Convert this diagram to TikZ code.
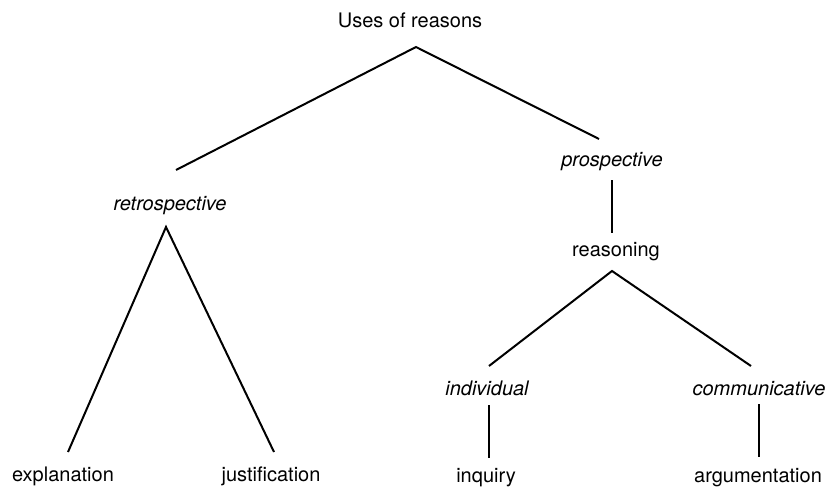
\documentclass[tikz,border=0pt]{standalone}
\usepackage{fontspec}
\setmainfont{TeX Gyre Heros}
\begin{document}
\begin{tikzpicture}[x=1pt,y=-1pt,
  lbl/.style={inner sep=0pt, anchor=base, font=\fontsize{20}{24}\selectfont},
  itl/.style={lbl, font=\fontsize{20}{24}\selectfont\itshape},
  edge/.style={line width=2pt}]
\useasboundingbox (0,0) rectangle (830,487);
\node[lbl] (uses) at (410,28) {Uses of reasons};
\node[itl] (retro) at (170,210) {retrospective};
\node[itl] (prosp) at (612,166) {prospective};
\node[lbl] (reason) at (616,256) {reasoning};
\node[itl] (indiv) at (487,395) {individual};
\node[itl] (comm) at (759,395) {communicative};
\node[lbl] (expl) at (63,481) {explanation};
\node[lbl] (just) at (271,481) {justification};
\node[lbl] (inq) at (486,482) {inquiry};
\node[lbl] (arg) at (758,482) {argumentation};

\draw[edge] ([xshift=6pt,yshift=40pt]retro.base) -- ([xshift=6pt,yshift=-19pt]uses.base) -- ([xshift=-13pt,yshift=27pt]prosp.base);
\draw[edge] ([yshift=-14pt]prosp.base) -- ([xshift=-4pt,yshift=23pt]reason.base);
\draw[edge] ([xshift=5pt,yshift=29pt]expl.base) -- ([xshift=-4pt,yshift=-17pt]retro.base) -- ([xshift=3pt,yshift=29pt]just.base);
\draw[edge] ([xshift=2pt,yshift=29pt]indiv.base) -- ([xshift=-4pt,yshift=-15pt]reason.base) -- ([xshift=-8pt,yshift=29pt]comm.base);
\draw[edge] ([xshift=2pt,yshift=-10pt]indiv.base) -- ([xshift=3pt,yshift=24pt]inq.base);
\draw[edge] ([yshift=-9pt]comm.base) -- ([xshift=1pt,yshift=25pt]arg.base);
\end{tikzpicture}
\end{document}
